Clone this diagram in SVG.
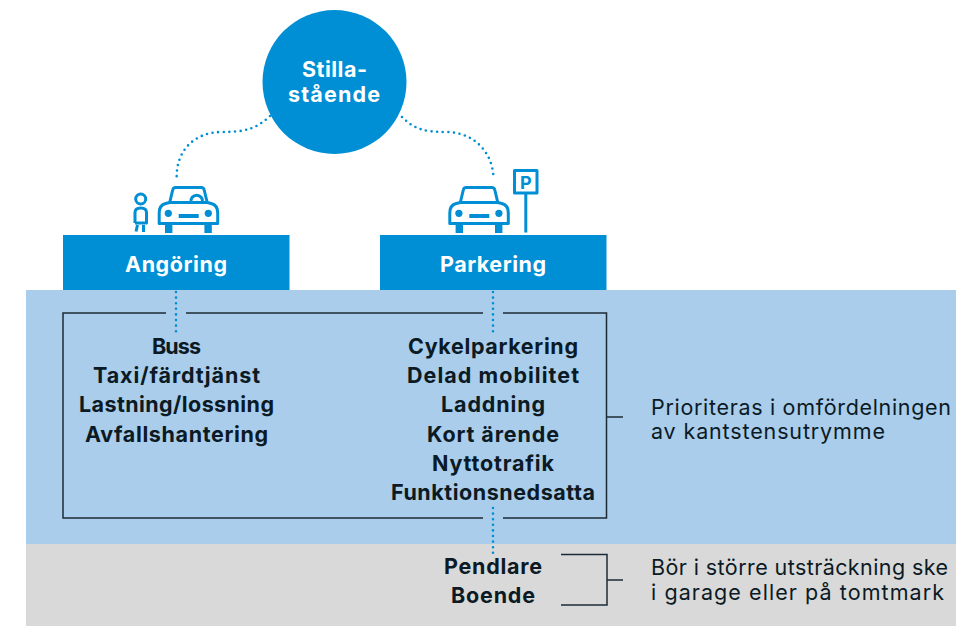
<svg xmlns="http://www.w3.org/2000/svg" width="961" height="626" viewBox="0 0 961 626">
<style>
text{font-family:"Inter","Noto Sans",sans-serif}
.b{font-weight:700;font-size:21.5px;fill:#0b1a24;text-anchor:middle}
.w{font-weight:700;font-size:21.5px;fill:#fff;text-anchor:middle}
.r{font-size:21.5px;fill:#0b1a24}
.dot{fill:none;stroke:#008fd5;stroke-width:2.6;stroke-linecap:round;stroke-dasharray:0 5.6}
.ln{fill:none;stroke:#1d2b36;stroke-width:1.5}
.ic{fill:none;stroke:#008fd5;stroke-width:3;stroke-linejoin:round}
.if{fill:#008fd5}
</style>
<defs>
<g id="car">
<path class="ic" d="M1.5 37.5V27Q1.5 19 8 17.5L12 16.5L15 4Q15.5 1.5 18 1.5H43.5Q46 1.5 46.5 4L49.5 16.5L53.500 17.5Q60 19 60 27V37.5ZM12 16.5H49.5"/>
<rect class="if" x="7.3" y="37" width="7.4" height="10"/>
<rect class="if" x="46.7" y="37" width="7.4" height="10"/>
<circle class="if" cx="10.6" cy="27.3" r="3.6"/>
<circle class="if" cx="50.6" cy="27.3" r="3.6"/>
<rect class="if" x="21" y="28" width="20" height="4"/>
</g>
</defs>
<rect id="zone-blue" x="26" y="290" width="930" height="254" fill="#a9cdeb"/>
<rect id="zone-gray" x="26" y="544" width="930" height="82" fill="#d9d9d9"/>
<g id="connectors">
<path class="dot" d="M270 116C256 129 245 132 222 132C195 132 176 150 176.700 178"/>
<path class="dot" d="M402 117C414 129 424 132 446 132C472 132 492 150 493.500 177"/>
<path class="dot" d="M176 292V333"/>
<path class="dot" d="M493 292V333"/>
<path class="dot" d="M493 508V553"/>
<path class="ln" d="M166 313H63V518H483M503 518H606.500V313H503M483 313H186"/>
<path class="ln" d="M606.500 417H623"/>
<path class="ln" d="M561 554.500H607V605H561M607 580H623"/>
</g>
<g id="node-stillastaende">
<circle cx="334.500" cy="82" r="72" fill="#008fd5"/>
<text class="w" x="334.500" y="77" textLength="65">Stilla-</text>
<text class="w" x="334" y="102" textLength="92">stående</text>
</g>
<g id="node-angoring">
<use href="#car" x="157.700" y="186"/>
<path class="ic" d="M191 202A5.800 5.800 0 1 1 202.400 202"/>
<circle class="ic" stroke-width="2.500" cx="140.700" cy="199" r="5"/>
<path class="ic" stroke-width="2.500" d="M135 223V212.500Q135 208 140.700 208Q146.500 208 146.500 212.500V223H135M137.500 225L136 231.500M143.500 225V232"/>
<rect x="63" y="235" width="226.500" height="55" fill="#008fd5"/>
<text class="w" x="176" y="272" textLength="102">Angöring</text>
</g>
<g id="node-parkering">
<use href="#car" x="448.300" y="186"/>
<rect class="ic" x="514.500" y="170.500" width="22.500" height="22.500"/>
<path class="ic" d="M525.800 193V232.500"/>
<text x="525.800" y="189" text-anchor="middle" font-weight="700" font-size="18" fill="#008fd5">P</text>
<rect x="380" y="235" width="226.500" height="55" fill="#008fd5"/>
<text class="w" x="493" y="272" textLength="106">Parkering</text>
</g>
<g id="list-angoring">
<text class="b" x="176.500" y="354" textLength="49">Buss</text>
<text class="b" x="176.500" y="383" textLength="167">Taxi/färdtjänst</text>
<text class="b" x="176.500" y="412" textLength="195">Lastning/lossning</text>
<text class="b" x="176.500" y="442" textLength="183">Avfallshantering</text>
</g>
<g id="list-parkering">
<text class="b" x="493" y="354" textLength="170">Cykelparkering</text>
<text class="b" x="493" y="383" textLength="172">Delad mobilitet</text>
<text class="b" x="493" y="412" textLength="104">Laddning</text>
<text class="b" x="493" y="442" textLength="132">Kort ärende</text>
<text class="b" x="493" y="471" textLength="122">Nyttotrafik</text>
<text class="b" x="493" y="500" textLength="204">Funktionsnedsatta</text>
</g>
<g id="list-gray">
<text class="b" x="493" y="574" textLength="98">Pendlare</text>
<text class="b" x="493" y="603" textLength="84">Boende</text>
</g>
<g id="note-1">
<text class="r" x="651" y="415" textLength="300">Prioriteras i omfördelningen</text>
<text class="r" x="651" y="439" textLength="234">av kantstensutrymme</text>
</g>
<g id="note-2">
<text class="r" x="651" y="575" textLength="297">Bör i större utsträckning ske</text>
<text class="r" x="651" y="600" textLength="293">i garage eller på tomtmark</text>
</g>
</svg>
